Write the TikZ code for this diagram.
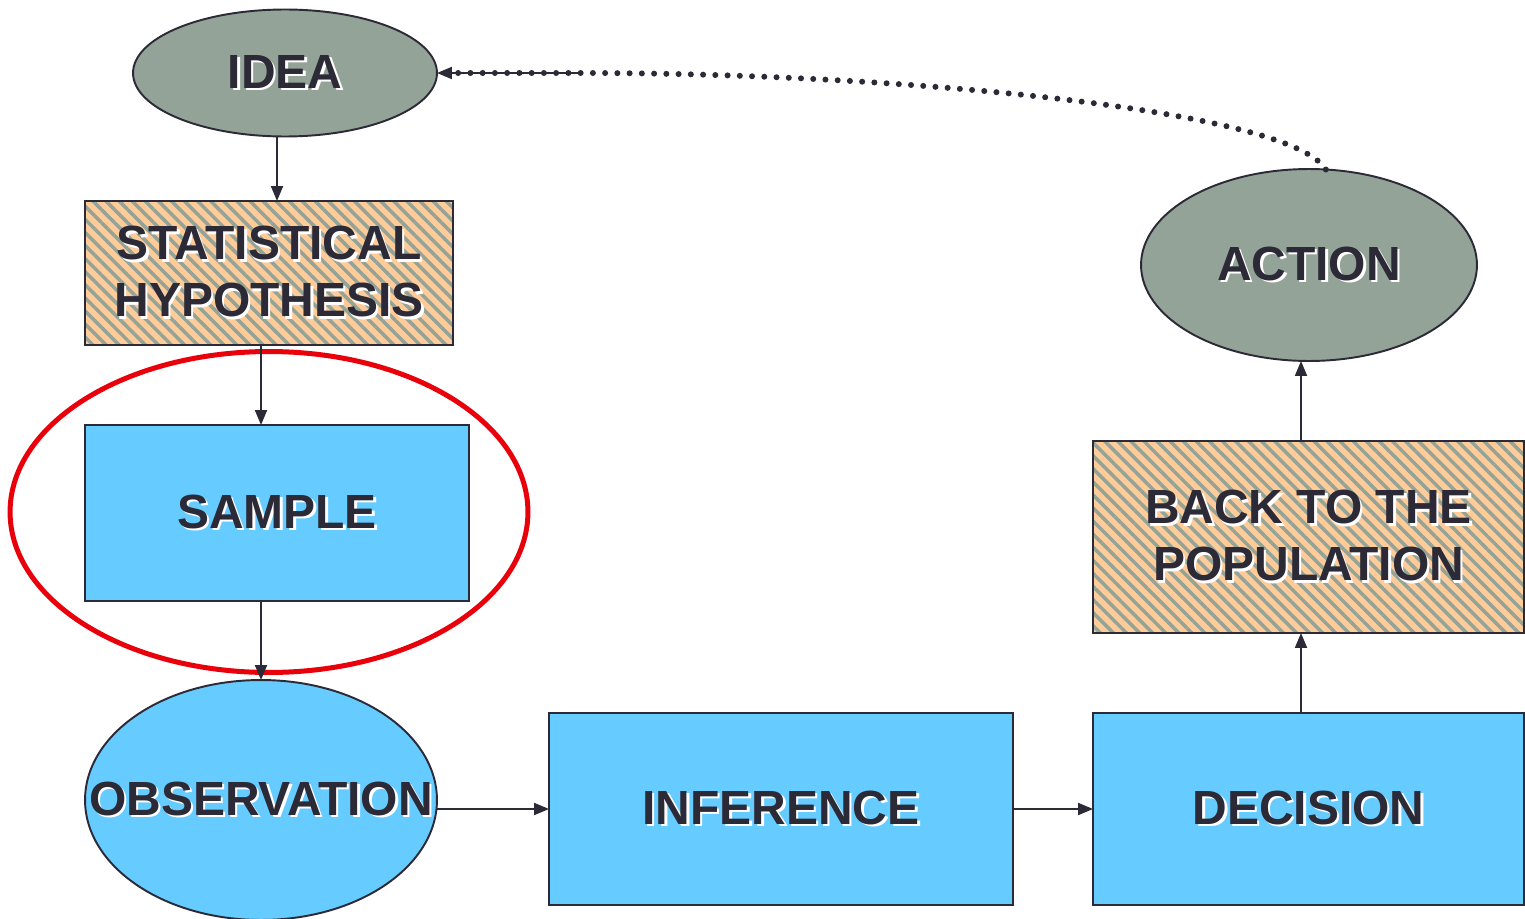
\documentclass[tikz,border=0pt]{standalone}
\usepackage{fontspec}
\setmainfont{Liberation Sans}
\usetikzlibrary{shapes.geometric,arrows.meta,patterns.meta}
\definecolor{inkc}{HTML}{2B2A36}
\definecolor{skyc}{HTML}{66CCFF}
\definecolor{sagec}{HTML}{94A398}
\definecolor{peachc}{HTML}{FFCC99}
\definecolor{ringc}{HTML}{E8000B}
% text with a light shadow
\newcommand{\shtxt}[1]{\rlap{\kern1.4pt\raisebox{-1.4pt}{\textcolor{white}{#1}}}#1}

\begin{document}
\begin{tikzpicture}[x=0.02cm,y=-0.02cm,
  every node/.style={inner sep=0pt, outer sep=0pt, text=inkc,
    font=\fontsize{27.3}{32.4}\selectfont\bfseries, align=center},
  box/.style={draw=inkc, line width=1.1pt, fill=skyc},
  hatched/.style={draw=inkc, line width=1.1pt, preaction={fill=peachc},
    pattern={Lines[angle=-45,distance=0.185cm,line width=0.07cm]}, pattern color=sagec},
  blob/.style={ellipse, draw=inkc, line width=1.1pt},
  arr/.style={draw=inkc, line width=1.1pt, -{Triangle[length=0.3cm,width=0.24cm]}}]

\useasboundingbox (0,0) rectangle (1525,919);

\node[blob, fill=sagec, minimum width=6.08cm, minimum height=2.54cm] (idea) at (285,73) {\makebox[0pt]{\shtxt{IDEA}}};
\node[hatched, minimum width=7.36cm, minimum height=2.88cm] (hyp) at (269,273) {\shtxt{STATISTICAL}\\\shtxt{HYPOTHESIS}};
\node[box, minimum width=7.68cm, minimum height=3.52cm] (sample) at (277,513) {\shtxt{SAMPLE}};
\node[blob, fill=skyc, minimum width=7.04cm, minimum height=4.8cm] (obs) at (261,800) {\makebox[0pt]{\shtxt{OBSERVATION}}};
\node[box, minimum width=9.28cm, minimum height=3.84cm] (inf) at (781,809) {\shtxt{INFERENCE}};
\node[box, minimum width=8.62cm, minimum height=3.84cm] (dec) at (1308.5,809) {\shtxt{DECISION}};
\node[hatched, minimum width=8.62cm, minimum height=3.84cm] (back) at (1308.5,537) {\shtxt{BACK TO THE}\\\shtxt{POPULATION}};
\node[blob, fill=sagec, minimum width=6.72cm, minimum height=3.84cm] (action) at (1309,265) {\makebox[0pt]{\shtxt{ACTION}}};

\node[ellipse, draw=ringc, line width=0.1cm, minimum width=10.36cm, minimum height=6.42cm] (ring) at (269,512) {};

\coordinate (colA) at (277,0);
\coordinate (colB) at (261,0);
\coordinate (colC) at (1301,0);
\coordinate (bend) at (583,73);

\draw[arr] (idea.south -| colA) -- (hyp.north -| colA);
\draw[arr] (hyp.south -| colB) -- (sample.north -| colB);
\draw[arr] (sample.south -| colB) -- (obs.north -| colB);
\draw[arr] (obs.east |- inf.west) -- (inf.west);
\draw[arr] (inf.east) -- (dec.west);
\draw[arr] (dec.north -| colC) -- (back.south -| colC);
\draw[arr] (back.north -| colC) -- (action.south -| colC);

\draw[inkc, line width=0.12cm, line cap=round, dash pattern=on 0pt off 0.245cm]
  (action.80) .. controls (1290,110) and (900,73) .. (bend) -- (idea.east);
\draw[arr] (bend) -- (idea.east);
\end{tikzpicture}
\end{document}
